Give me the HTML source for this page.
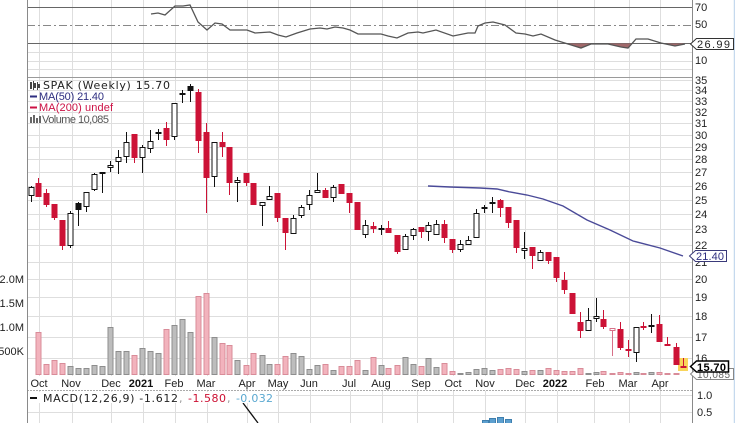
<!DOCTYPE html>
<html><head><meta charset="utf-8">
<style>
html,body{margin:0;padding:0;background:#fff;}
svg{display:block;}
text{font-family:"Liberation Sans",Arial,sans-serif;font-size:11px;fill:#222;}
.dv{font-family:"DejaVu Sans","Liberation Sans",sans-serif;}
.g{stroke:#dedede;stroke-width:1;fill:none;}
.R rect{fill:#cc1236;stroke:#cc1236;}
.H rect{fill:#fff;stroke:#111;}
.B rect{fill:#111;stroke:#111;}
.vp rect{fill:#f2b3bd;stroke:#d98c99;}
.vg rect{fill:#bdbdbd;stroke:#8e8e8e;}
</style></head><body>
<svg width="735" height="423" viewBox="0 0 735 423" xmlns="http://www.w3.org/2000/svg">
<rect width="735" height="423" fill="#fff"/>
<!-- vertical gridlines -->
<path class="g" d="M39.5 0V376M72.5 0V376M111.5 0V376M143.5 0V376M175.5 0V376M207.5 0V376M247.5 0V376M278.5 0V376M310.5 0V376M350.5 0V376M382.5 0V376M417.5 0V376M453.5 0V376M485.5 0V376M525.5 0V376M557.5 0V376M594.5 0V376M629.5 0V376M660.5 0V376
M39.5 391V423M72.5 391V423M111.5 391V423M143.5 391V423M175.5 391V423M207.5 391V423M247.5 391V423M278.5 391V423M310.5 391V423M350.5 391V423M382.5 391V423M417.5 391V423M453.5 391V423M485.5 391V423M525.5 391V423M557.5 391V423M594.5 391V423M629.5 391V423M660.5 391V423"/>
<!-- RSI gridlines -->
<path class="g" d="M27 52.5H692M27 61.5H692M27 69.5H692"/>
<path d="M27 7.5H692M27 43.5H692" stroke="#666" stroke-width="1"/>
<path d="M27 25.5H692" stroke="#888" stroke-width="1" stroke-dasharray="8,3,2,3"/>
<path d="M27 77.5H692" stroke="#9a9a9a" stroke-width="1"/>
<!-- price gridlines -->
<path class="g" d="M27 80.5H692M27 90.5H692M27 101.5H692M27 112.5H692M27 123.5H692M27 135.5H692M27 147.5H692M27 159.5H692M27 172.5H692M27 186.5H692M27 200.5H692M27 214.5H692M27 229.5H692M27 245.5H692M27 262.5H692M27 279.5H692M27 297.5H692M27 316.5H692M27 337.5H692M27 358.5H692"/>
<!-- MACD gridlines -->
<path class="g" d="M27 395.5H692M27 412.5H692"/>
<path d="M27 390.5H692" stroke="#aaa" stroke-width="1" stroke-dasharray="2,1"/>
<!-- axes -->
<path d="M27.5 0V423M692.5 0V423" stroke="#8a8a8a" stroke-width="1"/>
<path d="M734.5 0V423" stroke="#c5d9ee" stroke-width="1.5"/>

<!-- RSI -->
<path d="M566 43.5L568 44L581 48L591 44L592 43.5ZM600 43.5L608 44L621 47L628 48L631 43.5ZM662 43.5L675 46L685 44L685 43.5Z" fill="#a0686a"/>
<polyline fill="none" stroke="#555" stroke-width="1.3" points="151,14 158,13 165,15 175,6 183,6 190,5 198,22 207,30 215,23 222,24 230,30 247,30 255,33 270,32 278,35 286,37 297,33 310,29 320,28 327,29 335,27 343,28 350,30 358,34 368,34 381,34 388,36 397,38 408,33 418,32 423,33 436,30 453,36 468,33 475,33 478,26 485,23 493,22 505,25 516,33 525,34 533,36 541,34 555,40 568,44 581,48 591,44 608,44 621,47 628,48 636,39 648,39 661,43 675,46 685,44"/>

<!-- Volume -->
<g class="vp">
<rect x="36" y="332.5" width="5" height="42"/><rect x="44" y="364.5" width="5" height="10"/><rect x="52" y="360.5" width="5" height="14"/><rect x="60" y="363.5" width="5" height="11"/><rect x="132" y="355.5" width="5" height="19"/><rect x="164" y="329.5" width="5" height="45"/><rect x="196" y="296.5" width="5" height="78"/><rect x="204" y="293.5" width="5" height="81"/><rect x="220" y="343.5" width="5" height="31"/><rect x="227" y="345.5" width="5" height="29"/><rect x="244" y="365.5" width="5" height="9"/><rect x="251" y="353.5" width="5" height="21"/><rect x="275" y="364.5" width="5" height="10"/><rect x="283" y="356.5" width="5" height="18"/><rect x="323" y="364.5" width="5" height="10"/><rect x="339" y="366.5" width="5" height="8"/><rect x="347" y="366.5" width="5" height="8"/><rect x="355" y="360.5" width="5" height="14"/><rect x="371" y="357.5" width="5" height="17"/><rect x="386" y="368.5" width="5" height="6"/><rect x="395" y="365.5" width="5" height="9"/><rect x="419" y="366.5" width="5" height="8"/><rect x="442" y="363.5" width="5" height="11"/><rect x="450" y="371.5" width="5" height="3"/><rect x="498" y="369.5" width="5" height="5"/><rect x="506" y="368.5" width="5" height="6"/><rect x="514" y="369.5" width="5" height="5"/><rect x="530" y="370.5" width="5" height="4"/><rect x="546" y="368.5" width="5" height="6"/><rect x="554" y="370.5" width="5" height="4"/><rect x="562" y="371.5" width="5" height="3"/><rect x="570" y="371.5" width="5" height="3"/><rect x="578" y="368.5" width="5" height="6"/><rect x="601" y="371.5" width="5" height="3"/><rect x="610" y="373.5" width="5" height="1"/><rect x="618" y="372.5" width="5" height="2"/><rect x="626" y="373.5" width="5" height="1"/><rect x="641" y="373.5" width="5" height="1"/><rect x="657" y="372.5" width="5" height="2"/><rect x="665" y="373.5" width="5" height="1"/><rect x="674" y="373.5" width="5" height="1"/>
</g>
<g class="vg">
<rect x="68" y="366.5" width="5" height="8"/><rect x="76" y="368.5" width="5" height="6"/><rect x="84" y="368.5" width="5" height="6"/><rect x="92" y="365.5" width="5" height="9"/><rect x="100" y="366.5" width="5" height="8"/><rect x="108" y="327.5" width="5" height="47"/><rect x="116" y="351.5" width="5" height="23"/><rect x="124" y="351.5" width="5" height="23"/><rect x="140" y="348.5" width="5" height="26"/><rect x="148" y="351.5" width="5" height="23"/><rect x="156" y="353.5" width="5" height="21"/><rect x="172" y="325.5" width="5" height="49"/><rect x="180" y="319.5" width="5" height="55"/><rect x="188" y="332.5" width="5" height="42"/><rect x="212" y="337.5" width="5" height="37"/><rect x="235" y="360.5" width="5" height="14"/><rect x="260" y="355.5" width="5" height="19"/><rect x="267" y="364.5" width="5" height="10"/><rect x="291" y="353.5" width="5" height="21"/><rect x="299" y="356.5" width="5" height="18"/><rect x="307" y="369.5" width="5" height="5"/><rect x="315" y="365.5" width="5" height="9"/><rect x="331" y="370.5" width="5" height="4"/><rect x="363" y="370.5" width="5" height="4"/><rect x="379" y="365.5" width="5" height="9"/><rect x="403" y="357.5" width="5" height="17"/><rect x="411" y="364.5" width="5" height="10"/><rect x="426" y="358.5" width="5" height="16"/><rect x="434" y="367.5" width="5" height="7"/><rect x="458" y="373.5" width="5" height="1"/><rect x="466" y="372.5" width="5" height="2"/><rect x="474" y="369.5" width="5" height="5"/><rect x="482" y="368.5" width="5" height="6"/><rect x="490" y="370.5" width="5" height="4"/><rect x="522" y="371.5" width="5" height="3"/><rect x="538" y="370.5" width="5" height="4"/><rect x="586" y="373.5" width="5" height="1"/><rect x="594" y="372.5" width="5" height="2"/><rect x="634" y="372.5" width="5" height="2"/><rect x="649" y="372.5" width="5" height="2"/>
</g>

<!-- highlight last bar -->
<rect x="678" y="358" width="10" height="13" fill="#f9d55b"/>

<!-- MA50 -->
<polyline fill="none" stroke="#4a4a98" stroke-width="1.4" points="428,186 450,187 480,188 497,189 510,192 527,195 543,199 563,206 587,220 610,230 633,241 660,248 683,256"/>

<!-- candles: wicks -->
<path fill="none" stroke="#cc1236" stroke-width="1" d="M38.5 178V197M46.5 189V207M54.5 204V220M62.5 220V250M134.5 134V163M166.5 122V146M198.5 89V153M206.5 123V213M222.5 132V157M229.5 147V195M246.5 173V186M253.5 183V205M277.5 193V222M285.5 218V250M325.5 188V198M341.5 184V194M349.5 193V213M357.5 202V230M373.5 222V233M388.5 221V233M397.5 235V254M421.5 227V238M444.5 220V243M452.5 239V253M500.5 199V217M508.5 207V228M516.5 220V253M532.5 247V269M548.5 252V264M556.5 257V282M564.5 272V294M572.5 293V314M580.5 312V338M603.5 310V329M620.5 322V350M628.5 340V357M643.5 322V330M659.5 315V342M667.5 337V346M676.5 343V365M683.5 358V367"/>
<path fill="none" stroke="#d77088" stroke-width="1" d="M612.5 331V356"/>
<path fill="none" stroke="#111" stroke-width="1" d="M31.5 186V202M70.5 211V248M86.5 192V212M94.5 173V191M110.5 161V172M118.5 150V174M126.5 132V163M142.5 145V173M150.5 130V153M174.5 103V140M214.5 142V187M237.5 177V202M262.5 202V226M269.5 186V200M293.5 215V234M301.5 205V218M309.5 190V210M317.5 173V193M333.5 185V202M365.5 220V238M405.5 234V250M413.5 228V240M428.5 222V241M436.5 220V235M460.5 240V252M468.5 236V245M476.5 209V238M524.5 232V259M540.5 250V261M588.5 308V331M596.5 298V322M636.5 327V362M651.5 314V333M78.5 202V226M102.5 172V193M158.5 129V140M182.5 90V103M190.5 84V102M381.5 225V235M484.5 205V213M492.5 197V213"/>
<!-- candle bodies -->
<g class="R">
<rect x="36" y="183.5" width="5" height="13"/><rect x="44" y="193.5" width="5" height="11"/><rect x="52" y="204.5" width="5" height="13"/><rect x="60" y="220.5" width="5" height="25"/><rect x="132" y="134.5" width="5" height="23"/><rect x="164" y="128.5" width="5" height="11"/><rect x="196" y="92.5" width="5" height="48"/><rect x="204" y="132.5" width="5" height="45"/><rect x="220" y="142.5" width="5" height="4"/><rect x="227" y="147.5" width="5" height="35"/><rect x="244" y="173.5" width="5" height="9"/><rect x="251" y="183.5" width="5" height="21"/><rect x="275" y="193.5" width="5" height="24"/><rect x="283" y="218.5" width="5" height="14"/><rect x="323" y="190.5" width="5" height="7"/><rect x="339" y="184.5" width="5" height="9"/><rect x="347" y="193.5" width="5" height="9"/><rect x="355" y="202.5" width="5" height="27"/><rect x="371" y="226.5" width="5" height="2"/><rect x="386" y="228.5" width="5" height="4"/><rect x="395" y="235.5" width="5" height="16"/><rect x="419" y="227.5" width="5" height="4"/><rect x="442" y="224.5" width="5" height="13"/><rect x="450" y="239.5" width="5" height="10"/><rect x="498" y="200.5" width="5" height="7"/><rect x="506" y="207.5" width="5" height="15"/><rect x="514" y="220.5" width="5" height="27"/><rect x="530" y="247.5" width="5" height="8"/><rect x="546" y="252.5" width="5" height="8"/><rect x="554" y="257.5" width="5" height="20"/><rect x="562" y="280.5" width="5" height="9"/><rect x="570" y="293.5" width="5" height="20"/><rect x="578" y="322.5" width="5" height="8"/><rect x="601" y="319.5" width="5" height="7"/><rect x="618" y="329.5" width="5" height="18"/><rect x="626" y="349.5" width="5" height="1"/><rect x="641" y="326.5" width="5" height="1"/><rect x="657" y="324.5" width="5" height="17"/><rect x="665" y="344.5" width="5" height="1"/><rect x="674" y="347.5" width="5" height="17"/><rect x="681" y="366.5" width="5" height="1"/>
</g>
<rect x="610" y="328.5" width="5" height="2" fill="#fff" stroke="#d77088"/>
<g class="H">
<rect x="29" y="187.5" width="5" height="8"/><rect x="68" y="213.5" width="5" height="32"/><rect x="84" y="192.5" width="5" height="14"/><rect x="92" y="174.5" width="5" height="15"/><rect x="108" y="165.5" width="5" height="2"/><rect x="116" y="157.5" width="5" height="4"/><rect x="124" y="142.5" width="5" height="14"/><rect x="140" y="147.5" width="5" height="10"/><rect x="148" y="141.5" width="5" height="7"/><rect x="172" y="103.5" width="5" height="33"/><rect x="212" y="142.5" width="5" height="34"/><rect x="235" y="180.5" width="5" height="2"/><rect x="260" y="202.5" width="5" height="3"/><rect x="267" y="196.5" width="5" height="3"/><rect x="291" y="218.5" width="5" height="15"/><rect x="299" y="207.5" width="5" height="8"/><rect x="307" y="195.5" width="5" height="9"/><rect x="315" y="190.5" width="5" height="2"/><rect x="331" y="187.5" width="5" height="10"/><rect x="363" y="225.5" width="5" height="9"/><rect x="403" y="236.5" width="5" height="13"/><rect x="411" y="229.5" width="5" height="6"/><rect x="426" y="225.5" width="5" height="6"/><rect x="434" y="224.5" width="5" height="10"/><rect x="458" y="244.5" width="5" height="5"/><rect x="466" y="240.5" width="5" height="4"/><rect x="474" y="213.5" width="5" height="24"/><rect x="522" y="248.5" width="5" height="2"/><rect x="538" y="252.5" width="5" height="8"/><rect x="586" y="320.5" width="5" height="10"/><rect x="594" y="316.5" width="5" height="2"/><rect x="634" y="327.5" width="5" height="25"/><rect x="649" y="325.5" width="5" height="1"/>
</g>
<g class="B">
<rect x="76" y="203.5" width="5" height="6"/><rect x="100" y="172.5" width="5" height="1"/><rect x="156" y="132.5" width="5" height="1"/><rect x="180" y="93.5" width="5" height="1"/><rect x="188" y="86.5" width="5" height="4"/><rect x="379" y="228.5" width="5" height="1"/><rect x="482" y="207.5" width="5" height="1"/><rect x="490" y="202.5" width="5" height="1"/>
</g>

<!-- MACD -->
<g fill="#5c9fcf" stroke="#3f7fae" stroke-width="1">
<rect x="482.5" y="420.5" width="6" height="4"/><rect x="489.5" y="418.5" width="6" height="6"/><rect x="497.5" y="417.5" width="6" height="7"/><rect x="505.5" y="419.5" width="6" height="5"/>
</g>
<path d="M243 403L258 423" stroke="#111" stroke-width="1.3" fill="none"/>
<rect x="28" y="392" width="248" height="11" fill="#fff"/>
<path d="M30 398H37" stroke="#111" stroke-width="2"/>
<text class="dv" y="402"><tspan x="43" textLength="135" fill="#222">MACD(12,26,9) -1.612</tspan><tspan x="179" fill="#999">,</tspan><tspan x="188" textLength="38" fill="#cc1133">-1.580</tspan><tspan x="227" fill="#999">,</tspan><tspan x="236" textLength="37" fill="#5aa8d0">-0.032</tspan></text>

<!-- legend -->
<g fill="#444">
<rect x="30" y="82" width="2" height="7"/><rect x="33" y="81" width="1" height="9"/><rect x="34" y="83" width="2" height="5"/><rect x="37" y="82" width="1" height="8"/><rect x="38" y="84" width="2" height="4"/>
</g>
<text class="dv" x="43" y="89" textLength="127" fill="#333">SPAK (Weekly) 15.70</text>
<path d="M30 96.5H37" stroke="#2e2e80" stroke-width="2"/>
<text x="39" y="100" textLength="65" style="fill:#2e2e80">MA(50) 21.40</text>
<path d="M30 107.5H37" stroke="#cc1144" stroke-width="2"/>
<text x="39" y="111" textLength="74" style="fill:#cc1144">MA(200) undef</text>
<g fill="#666"><rect x="30" y="117" width="2" height="6"/><rect x="33" y="115" width="2" height="8"/><rect x="36" y="118" width="2" height="5"/><rect x="39" y="116" width="2" height="7"/></g>
<text x="42" y="123" textLength="67" style="fill:#555">Volume 10,085</text>

<!-- volume axis labels -->
<g text-anchor="end" style="fill:#333">
<text x="24" y="283" text-anchor="end">2.0M</text>
<text x="24" y="307" text-anchor="end">1.5M</text>
<text x="24" y="331" text-anchor="end">1.0M</text>
<text x="24" y="355" text-anchor="end">500K</text>
</g>

<!-- x axis labels -->
<g text-anchor="middle">
<text x="39" y="387" text-anchor="middle">Oct</text>
<text x="71" y="387" text-anchor="middle">Nov</text>
<text x="111" y="387" text-anchor="middle">Dec</text>
<text x="141" y="387" text-anchor="middle" font-weight="bold" style="font-weight:bold;fill:#111">2021</text>
<text x="174" y="387" text-anchor="middle">Feb</text>
<text x="206" y="387" text-anchor="middle">Mar</text>
<text x="247" y="387" text-anchor="middle">Apr</text>
<text x="278" y="387" text-anchor="middle">May</text>
<text x="309" y="387" text-anchor="middle">Jun</text>
<text x="349" y="387" text-anchor="middle">Jul</text>
<text x="381" y="387" text-anchor="middle">Aug</text>
<text x="421" y="387" text-anchor="middle">Sep</text>
<text x="453" y="387" text-anchor="middle">Oct</text>
<text x="485" y="387" text-anchor="middle">Nov</text>
<text x="525" y="387" text-anchor="middle">Dec</text>
<text x="555" y="387" text-anchor="middle" style="font-weight:bold;fill:#111">2022</text>
<text x="595" y="387" text-anchor="middle">Feb</text>
<text x="628" y="387" text-anchor="middle">Mar</text>
<text x="660" y="387" text-anchor="middle">Apr</text>
</g>

<!-- right axis labels -->
<text x="695" y="11">70</text>
<text x="695" y="28">50</text>
<text x="695" y="64">10</text>
<text x="695" y="84">35</text>
<text x="695" y="94">34</text>
<text x="695" y="105">33</text>
<text x="695" y="116">32</text>
<text x="695" y="127">31</text>
<text x="695" y="139">30</text>
<text x="695" y="151">29</text>
<text x="695" y="163">28</text>
<text x="695" y="176">27</text>
<text x="695" y="190">26</text>
<text x="695" y="204">25</text>
<text x="695" y="218">24</text>
<text x="695" y="233">23</text>
<text x="695" y="249">22</text>
<text x="695" y="266">21</text>
<text x="695" y="283">20</text>
<text x="695" y="301">19</text>
<text x="695" y="320">18</text>
<text x="695" y="341">17</text>
<text x="695" y="362">16</text>
<text x="697" y="399">1.0</text>
<text x="697" y="416">0.5</text>

<!-- boxed value labels -->
<polygon points="690.5,44 696.5,38.5 733.5,38.5 733.5,49.5 696.5,49.5" fill="#fff" stroke="#333" stroke-width="1"/>
<text x="697" y="48" textLength="33">26.99</text>
<polygon points="689.5,256 695.5,250.5 726.5,250.5 726.5,261.5 695.5,261.5" fill="#fff" stroke="#3a3a7a" stroke-width="1"/>
<text x="696" y="260" textLength="28" style="fill:#2e2e80">21.40</text>
<polygon points="690.5,374 696.5,368.5 733.5,368.5 733.5,379.5 696.5,379.5" fill="#fff" stroke="#888" stroke-width="1"/>
<text x="697" y="378" textLength="33" style="fill:#666;font-size:10px">10,085</text>
<polygon points="690.5,366.5 696.5,361 728.5,361 728.5,372 696.5,372" fill="#fff" stroke="#000" stroke-width="1.5"/>
<text x="697" y="371" textLength="29" style="font-weight:bold;fill:#000">15.70</text>
</svg>
</body></html>
